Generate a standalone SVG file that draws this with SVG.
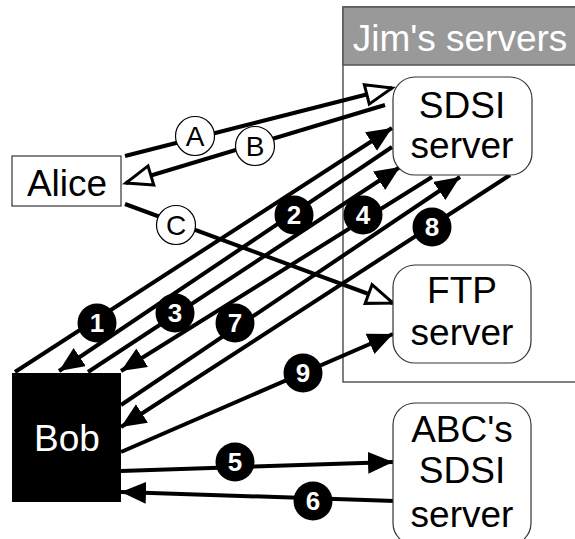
<svg xmlns="http://www.w3.org/2000/svg" width="575" height="539" viewBox="0 0 575 539">
<style>
.t{font-family:"Liberation Sans",Arial,sans-serif;font-size:37px;text-anchor:middle;fill:#000}
.w{fill:#fff}
.ln{stroke:#000;stroke-width:4;fill:none}
.fa{marker-end:url(#fa)}
.oa{marker-end:url(#oa)}
.rb{fill:#fff;stroke:#333;stroke-width:1.2}
.lc{fill:#fff;stroke:#000;stroke-width:1.2}
.lt{font-family:"Liberation Sans",Arial,sans-serif;font-size:28px;text-anchor:middle}
.nc{fill:#000}
.nt{font-family:"Liberation Sans",Arial,sans-serif;font-size:26px;font-weight:bold;text-anchor:middle;fill:#fff}
</style>
<defs>
<marker id="fa" markerUnits="userSpaceOnUse" markerWidth="28" markerHeight="24" refX="25" refY="11" orient="auto">
<path d="M0,0 L25,11 L0,22 Z" fill="#000"/>
</marker>
<marker id="oa" markerUnits="userSpaceOnUse" markerWidth="32" markerHeight="26" refX="28" refY="12" orient="auto">
<path d="M2,2 L28,12 L2,22 Z" fill="#fff" stroke="#000" stroke-width="3" stroke-linejoin="miter"/>
</marker>
</defs>
<rect width="575" height="539" fill="#fff"/>
<g id="jims">
<rect x="343" y="7" width="245" height="375" fill="#fff" stroke="#555" stroke-width="1.5"/>
<rect x="343" y="7" width="245" height="58" fill="#999" stroke="#555" stroke-width="1.5"/>
<text class="t w" x="460" y="51">Jim's servers</text>
</g>
<g id="connectors">
<line class="ln oa" x1="125" y1="156" x2="392" y2="88"/>
<line class="ln oa" x1="385" y1="105" x2="126" y2="183"/>
<line class="ln oa" x1="125" y1="204" x2="393" y2="303"/>
<line class="ln fa" x1="15" y1="372" x2="392" y2="128"/>
<line class="ln fa" x1="392" y1="147" x2="59" y2="371"/>
<line class="ln fa" x1="88" y1="372" x2="400" y2="167"/>
<line class="ln fa" x1="432" y1="177" x2="121" y2="371"/>
<line class="ln fa" x1="121" y1="405" x2="460" y2="177"/>
<line class="ln fa" x1="510" y1="175" x2="121" y2="427"/>
<line class="ln fa" x1="121" y1="452" x2="393" y2="334"/>
<line class="ln fa" x1="121" y1="471" x2="393" y2="462"/>
<line class="ln fa" x1="395" y1="501" x2="121" y2="492"/>
</g>
<g id="alice">
<rect x="12" y="156" width="109" height="50" fill="#fff" stroke="#333" stroke-width="1.2"/>
<text class="t" x="67" y="196">Alice</text>
</g>
<g id="bob">
<rect x="12" y="373" width="109" height="129" fill="#000"/>
<text class="t w" x="67" y="451">Bob</text>
</g>
<g id="sdsi">
<rect class="rb" x="393" y="77" width="139" height="98" rx="22"/>
<text class="t" x="462" y="118">SDSI</text>
<text class="t" x="462" y="158">server</text>
</g>
<g id="ftp">
<rect class="rb" x="393" y="265" width="138" height="98" rx="22"/>
<text class="t" x="462" y="303">FTP</text>
<text class="t" x="462" y="345">server</text>
</g>
<g id="abc">
<rect class="rb" x="393" y="403" width="138" height="142" rx="22"/>
<text class="t" x="462" y="442">ABC's</text>
<text class="t" x="462" y="483">SDSI</text>
<text class="t" x="462" y="527">server</text>
</g>
<g id="labels">
<circle class="lc" cx="195" cy="136" r="19.5"/><text class="lt" x="195" y="146">A</text>
<circle class="lc" cx="255" cy="146" r="19.5"/><text class="lt" x="255" y="156">B</text>
<circle class="lc" cx="176" cy="225" r="19.5"/><text class="lt" x="176" y="235">C</text>
<circle class="nc" cx="97" cy="323" r="19.5"/><text class="nt" x="97" y="332">1</text>
<circle class="nc" cx="294" cy="215" r="19.5"/><text class="nt" x="294" y="224">2</text>
<circle class="nc" cx="175" cy="313" r="19.5"/><text class="nt" x="175" y="322">3</text>
<circle class="nc" cx="363" cy="215" r="19.5"/><text class="nt" x="363" y="224">4</text>
<circle class="nc" cx="235" cy="462" r="19.5"/><text class="nt" x="235" y="471">5</text>
<circle class="nc" cx="313" cy="501" r="19.5"/><text class="nt" x="313" y="510">6</text>
<circle class="nc" cx="235" cy="323" r="19.5"/><text class="nt" x="235" y="332">7</text>
<circle class="nc" cx="432" cy="227" r="19.5"/><text class="nt" x="432" y="236">8</text>
<circle class="nc" cx="303" cy="373" r="19.5"/><text class="nt" x="303" y="382">9</text>
</g>
</svg>
